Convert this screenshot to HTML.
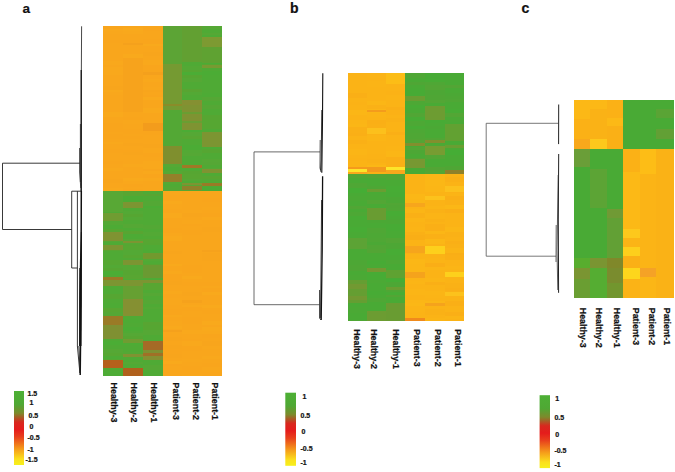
<!DOCTYPE html>
<html><head><meta charset="utf-8"><title>Heatmaps</title>
<style>
html,body{margin:0;padding:0;background:#fff;}
body{width:675px;height:472px;overflow:hidden;font-family:"Liberation Sans",sans-serif;}
svg{display:block;}
svg text{font-family:"Liberation Sans",sans-serif;font-weight:bold;fill:#111;stroke:#111;stroke-width:0.22px;}
</style></head><body>
<svg width="675" height="472" viewBox="0 0 675 472">
<defs>
<linearGradient id="lg" x1="0" y1="0" x2="0" y2="1">
<stop offset="0" stop-color="#4db035"/>
<stop offset="0.18" stop-color="#4fa834"/>
<stop offset="0.30" stop-color="#7d8a2c"/>
<stop offset="0.42" stop-color="#d8281e"/>
<stop offset="0.52" stop-color="#e51c1c"/>
<stop offset="0.62" stop-color="#e8401c"/>
<stop offset="0.78" stop-color="#f59a1a"/>
<stop offset="0.92" stop-color="#fbe01c"/>
<stop offset="1" stop-color="#f6f01c"/>
</linearGradient>
<filter id="bl" x="-2%" y="-2%" width="104%" height="104%"><feGaussianBlur stdDeviation="0.45"/></filter>
</defs>
<rect width="675" height="472" fill="#fff"/>
<g filter="url(#bl)" shape-rendering="crispEdges">
<rect x="103.20" y="26.20" width="59.80" height="164.90" fill="#f9a61c"/>
<rect x="103.20" y="190.80" width="59.80" height="184.70" fill="#50aa34"/>
<rect x="162.60" y="26.20" width="59.00" height="164.90" fill="#50aa34"/>
<rect x="162.60" y="190.80" width="59.00" height="184.70" fill="#f9a61c"/>
<rect x="103.20" y="26.20" width="19.80" height="2.97" fill="#f9a51c"/>
<rect x="103.20" y="29.17" width="19.80" height="2.22" fill="#f9a81c"/>
<rect x="103.20" y="31.39" width="19.80" height="2.17" fill="#f9a71c"/>
<rect x="103.20" y="33.56" width="19.80" height="3.30" fill="#f9a61c"/>
<rect x="103.20" y="40.14" width="19.80" height="2.37" fill="#f9a51c"/>
<rect x="103.20" y="52.68" width="19.80" height="2.87" fill="#f9a61c"/>
<rect x="103.20" y="61.02" width="19.80" height="3.92" fill="#f9a81c"/>
<rect x="103.20" y="64.93" width="19.80" height="2.19" fill="#f9a61c"/>
<rect x="103.20" y="67.12" width="19.80" height="4.04" fill="#f9a81c"/>
<rect x="103.20" y="71.16" width="19.80" height="3.76" fill="#f9a81c"/>
<rect x="103.20" y="85.61" width="19.80" height="4.19" fill="#f8a51c"/>
<rect x="103.20" y="89.80" width="19.80" height="2.35" fill="#f9a91c"/>
<rect x="103.20" y="92.15" width="19.80" height="2.46" fill="#f9a71c"/>
<rect x="103.20" y="112.43" width="19.80" height="4.83" fill="#f9a91c"/>
<rect x="103.20" y="123.38" width="19.80" height="4.47" fill="#f9a51c"/>
<rect x="103.20" y="127.85" width="19.80" height="4.01" fill="#f9a51c"/>
<rect x="103.20" y="131.86" width="19.80" height="2.50" fill="#f9a61c"/>
<rect x="103.20" y="134.36" width="19.80" height="4.30" fill="#f9a51c"/>
<rect x="103.20" y="141.84" width="19.80" height="2.24" fill="#f9a81c"/>
<rect x="103.20" y="148.73" width="19.80" height="4.59" fill="#f9a51c"/>
<rect x="103.20" y="156.40" width="19.80" height="4.87" fill="#f9a61c"/>
<rect x="103.20" y="161.27" width="19.80" height="2.70" fill="#f9a51c"/>
<rect x="103.20" y="163.97" width="19.80" height="3.77" fill="#f9a61c"/>
<rect x="103.20" y="167.73" width="19.80" height="3.26" fill="#f9a81c"/>
<rect x="103.20" y="179.40" width="19.80" height="4.03" fill="#f8a51c"/>
<rect x="103.20" y="187.77" width="19.80" height="3.03" fill="#f9a81c"/>
<rect x="103.20" y="193.11" width="19.80" height="2.19" fill="#54a834"/>
<rect x="103.20" y="195.30" width="19.80" height="2.49" fill="#52a934"/>
<rect x="103.20" y="197.78" width="19.80" height="2.00" fill="#53a934"/>
<rect x="103.20" y="199.78" width="19.80" height="3.09" fill="#58a633"/>
<rect x="103.20" y="202.88" width="19.80" height="3.84" fill="#54a834"/>
<rect x="103.20" y="206.72" width="19.80" height="3.04" fill="#53a834"/>
<rect x="103.20" y="214.31" width="19.80" height="3.40" fill="#4eab35"/>
<rect x="103.20" y="217.70" width="19.80" height="2.31" fill="#54a834"/>
<rect x="103.20" y="220.01" width="19.80" height="4.49" fill="#52a934"/>
<rect x="103.20" y="224.50" width="19.80" height="4.85" fill="#4eab35"/>
<rect x="103.20" y="229.35" width="19.80" height="3.63" fill="#56a733"/>
<rect x="103.20" y="237.92" width="19.80" height="4.09" fill="#55a834"/>
<rect x="103.20" y="248.10" width="19.80" height="2.99" fill="#58a633"/>
<rect x="103.20" y="260.47" width="19.80" height="4.22" fill="#56a733"/>
<rect x="103.20" y="264.69" width="19.80" height="3.07" fill="#52a934"/>
<rect x="103.20" y="267.75" width="19.80" height="2.84" fill="#57a633"/>
<rect x="103.20" y="270.59" width="19.80" height="4.87" fill="#4bad36"/>
<rect x="103.20" y="280.42" width="19.80" height="3.09" fill="#54a834"/>
<rect x="103.20" y="283.52" width="19.80" height="2.59" fill="#57a733"/>
<rect x="103.20" y="294.25" width="19.80" height="4.40" fill="#57a633"/>
<rect x="103.20" y="303.38" width="19.80" height="4.25" fill="#4eab35"/>
<rect x="103.20" y="307.63" width="19.80" height="4.37" fill="#58a633"/>
<rect x="103.20" y="311.99" width="19.80" height="4.91" fill="#55a734"/>
<rect x="103.20" y="321.75" width="19.80" height="2.51" fill="#53a834"/>
<rect x="103.20" y="336.35" width="19.80" height="3.05" fill="#4eab35"/>
<rect x="103.20" y="341.45" width="19.80" height="3.95" fill="#4bad36"/>
<rect x="103.20" y="348.70" width="19.80" height="4.48" fill="#54a834"/>
<rect x="103.20" y="353.18" width="19.80" height="2.88" fill="#56a733"/>
<rect x="103.20" y="356.05" width="19.80" height="2.78" fill="#4eab35"/>
<rect x="103.20" y="358.83" width="19.80" height="4.73" fill="#55a733"/>
<rect x="103.20" y="370.57" width="19.80" height="3.50" fill="#4dac35"/>
<rect x="103.20" y="374.08" width="19.80" height="1.42" fill="#4eab35"/>
<rect x="123.00" y="28.21" width="19.90" height="2.52" fill="#f9a91c"/>
<rect x="123.00" y="30.73" width="19.90" height="3.67" fill="#f9a81c"/>
<rect x="123.00" y="40.38" width="19.90" height="2.75" fill="#f9a51c"/>
<rect x="123.00" y="54.26" width="19.90" height="3.52" fill="#f9a91c"/>
<rect x="123.00" y="57.78" width="19.90" height="3.36" fill="#f9a81c"/>
<rect x="123.00" y="78.20" width="19.90" height="2.41" fill="#f9a51c"/>
<rect x="123.00" y="80.61" width="19.90" height="2.22" fill="#f9a61c"/>
<rect x="123.00" y="86.84" width="19.90" height="4.69" fill="#f9a51c"/>
<rect x="123.00" y="91.53" width="19.90" height="3.98" fill="#f8a51c"/>
<rect x="123.00" y="95.51" width="19.90" height="4.90" fill="#f8a51c"/>
<rect x="123.00" y="100.41" width="19.90" height="3.19" fill="#f9a91c"/>
<rect x="123.00" y="103.60" width="19.90" height="4.50" fill="#f9a51c"/>
<rect x="123.00" y="108.10" width="19.90" height="3.55" fill="#f9a71c"/>
<rect x="123.00" y="116.66" width="19.90" height="3.32" fill="#f9a51c"/>
<rect x="123.00" y="119.98" width="19.90" height="3.87" fill="#f9a71c"/>
<rect x="123.00" y="128.81" width="19.90" height="4.92" fill="#f9a51c"/>
<rect x="123.00" y="135.84" width="19.90" height="2.81" fill="#f9a51c"/>
<rect x="123.00" y="143.39" width="19.90" height="2.78" fill="#f8a51c"/>
<rect x="123.00" y="149.88" width="19.90" height="2.27" fill="#f9a51c"/>
<rect x="123.00" y="152.15" width="19.90" height="3.28" fill="#f8a51c"/>
<rect x="123.00" y="163.78" width="19.90" height="3.36" fill="#f9a81c"/>
<rect x="123.00" y="167.14" width="19.90" height="4.78" fill="#f9a61c"/>
<rect x="123.00" y="171.92" width="19.90" height="3.58" fill="#f9a61c"/>
<rect x="123.00" y="175.50" width="19.90" height="2.48" fill="#f9a61c"/>
<rect x="123.00" y="177.98" width="19.90" height="2.94" fill="#f9a91c"/>
<rect x="123.00" y="180.92" width="19.90" height="2.87" fill="#f9a71c"/>
<rect x="123.00" y="183.79" width="19.90" height="3.04" fill="#f9a51c"/>
<rect x="123.00" y="188.88" width="19.90" height="1.92" fill="#f9a51c"/>
<rect x="123.00" y="190.80" width="19.90" height="4.80" fill="#58a633"/>
<rect x="123.00" y="195.60" width="19.90" height="3.30" fill="#4bac36"/>
<rect x="123.00" y="198.90" width="19.90" height="3.18" fill="#4cac35"/>
<rect x="123.00" y="202.08" width="19.90" height="4.95" fill="#58a633"/>
<rect x="123.00" y="211.15" width="19.90" height="3.21" fill="#52a934"/>
<rect x="123.00" y="214.36" width="19.90" height="2.39" fill="#57a633"/>
<rect x="123.00" y="216.75" width="19.90" height="2.77" fill="#53a934"/>
<rect x="123.00" y="224.04" width="19.90" height="4.01" fill="#54a834"/>
<rect x="123.00" y="228.05" width="19.90" height="2.88" fill="#4eab35"/>
<rect x="123.00" y="230.93" width="19.90" height="3.34" fill="#59a533"/>
<rect x="123.00" y="234.27" width="19.90" height="4.92" fill="#4dab35"/>
<rect x="123.00" y="239.19" width="19.90" height="4.90" fill="#55a834"/>
<rect x="123.00" y="244.08" width="19.90" height="2.00" fill="#55a733"/>
<rect x="123.00" y="246.09" width="19.90" height="3.51" fill="#56a733"/>
<rect x="123.00" y="249.60" width="19.90" height="2.01" fill="#53a934"/>
<rect x="123.00" y="251.61" width="19.90" height="3.20" fill="#52a934"/>
<rect x="123.00" y="254.81" width="19.90" height="2.91" fill="#56a733"/>
<rect x="123.00" y="265.28" width="19.90" height="4.64" fill="#54a834"/>
<rect x="123.00" y="269.92" width="19.90" height="4.95" fill="#57a633"/>
<rect x="123.00" y="274.87" width="19.90" height="3.93" fill="#58a633"/>
<rect x="123.00" y="287.68" width="19.90" height="2.42" fill="#4dac35"/>
<rect x="123.00" y="303.76" width="19.90" height="4.08" fill="#52a934"/>
<rect x="123.00" y="307.84" width="19.90" height="2.40" fill="#53a934"/>
<rect x="123.00" y="318.63" width="19.90" height="4.04" fill="#4eab35"/>
<rect x="123.00" y="327.07" width="19.90" height="3.51" fill="#4cac35"/>
<rect x="123.00" y="332.77" width="19.90" height="2.76" fill="#54a834"/>
<rect x="123.00" y="335.53" width="19.90" height="4.19" fill="#57a633"/>
<rect x="123.00" y="339.72" width="19.90" height="4.93" fill="#4dac35"/>
<rect x="123.00" y="352.38" width="19.90" height="3.93" fill="#53a834"/>
<rect x="123.00" y="361.99" width="19.90" height="2.04" fill="#54a834"/>
<rect x="123.00" y="368.04" width="19.90" height="4.03" fill="#56a733"/>
<rect x="123.00" y="372.07" width="19.90" height="3.39" fill="#4eab35"/>
<rect x="123.00" y="375.46" width="19.90" height="0.04" fill="#59a533"/>
<rect x="142.90" y="26.20" width="19.70" height="4.81" fill="#f9a51c"/>
<rect x="142.90" y="35.47" width="19.70" height="3.35" fill="#f9a61c"/>
<rect x="142.90" y="38.82" width="19.70" height="4.84" fill="#f9a51c"/>
<rect x="142.90" y="43.65" width="19.70" height="2.43" fill="#f9a91c"/>
<rect x="142.90" y="52.00" width="19.70" height="4.11" fill="#f8a51c"/>
<rect x="142.90" y="56.11" width="19.70" height="3.46" fill="#f9a61c"/>
<rect x="142.90" y="59.57" width="19.70" height="3.48" fill="#f9a81c"/>
<rect x="142.90" y="63.05" width="19.70" height="2.42" fill="#f9a81c"/>
<rect x="142.90" y="65.47" width="19.70" height="4.52" fill="#f9a51c"/>
<rect x="142.90" y="69.99" width="19.70" height="4.52" fill="#f8a51c"/>
<rect x="142.90" y="78.65" width="19.70" height="2.87" fill="#f9a81c"/>
<rect x="142.90" y="86.51" width="19.70" height="3.08" fill="#f9a71c"/>
<rect x="142.90" y="89.59" width="19.70" height="2.14" fill="#f8a51c"/>
<rect x="142.90" y="94.60" width="19.70" height="2.75" fill="#f9a51c"/>
<rect x="142.90" y="97.34" width="19.70" height="2.57" fill="#f9a91c"/>
<rect x="142.90" y="108.46" width="19.70" height="4.82" fill="#f9a91c"/>
<rect x="142.90" y="118.78" width="19.70" height="3.93" fill="#f9a61c"/>
<rect x="142.90" y="122.71" width="19.70" height="4.78" fill="#f9a51c"/>
<rect x="142.90" y="127.50" width="19.70" height="3.03" fill="#f9a51c"/>
<rect x="142.90" y="130.53" width="19.70" height="4.93" fill="#f9a51c"/>
<rect x="142.90" y="138.36" width="19.70" height="3.18" fill="#f9a61c"/>
<rect x="142.90" y="144.16" width="19.70" height="3.49" fill="#f8a51c"/>
<rect x="142.90" y="147.66" width="19.70" height="4.99" fill="#f9a71c"/>
<rect x="142.90" y="152.64" width="19.70" height="2.58" fill="#f9a51c"/>
<rect x="142.90" y="155.22" width="19.70" height="2.27" fill="#f9a51c"/>
<rect x="142.90" y="161.20" width="19.70" height="4.25" fill="#f9a81c"/>
<rect x="142.90" y="165.45" width="19.70" height="3.57" fill="#f9a81c"/>
<rect x="142.90" y="169.03" width="19.70" height="2.19" fill="#f8a51c"/>
<rect x="142.90" y="171.21" width="19.70" height="2.38" fill="#f9a81c"/>
<rect x="142.90" y="173.59" width="19.70" height="4.59" fill="#f9a51c"/>
<rect x="142.90" y="178.18" width="19.70" height="2.75" fill="#f9a81c"/>
<rect x="142.90" y="185.79" width="19.70" height="4.62" fill="#f9a61c"/>
<rect x="142.90" y="194.22" width="19.70" height="2.00" fill="#59a533"/>
<rect x="142.90" y="200.70" width="19.70" height="4.92" fill="#53a834"/>
<rect x="142.90" y="205.61" width="19.70" height="2.46" fill="#4cac35"/>
<rect x="142.90" y="225.03" width="19.70" height="3.94" fill="#53a834"/>
<rect x="142.90" y="231.72" width="19.70" height="4.10" fill="#53a934"/>
<rect x="142.90" y="239.39" width="19.70" height="3.16" fill="#56a733"/>
<rect x="142.90" y="242.56" width="19.70" height="2.03" fill="#55a733"/>
<rect x="142.90" y="249.47" width="19.70" height="4.65" fill="#4eab35"/>
<rect x="142.90" y="256.86" width="19.70" height="4.11" fill="#52a934"/>
<rect x="142.90" y="264.47" width="19.70" height="3.26" fill="#57a633"/>
<rect x="142.90" y="267.73" width="19.70" height="4.78" fill="#52a934"/>
<rect x="142.90" y="272.50" width="19.70" height="3.01" fill="#4cac35"/>
<rect x="142.90" y="278.11" width="19.70" height="4.22" fill="#4eab35"/>
<rect x="142.90" y="282.33" width="19.70" height="4.91" fill="#58a633"/>
<rect x="142.90" y="287.24" width="19.70" height="2.69" fill="#58a633"/>
<rect x="142.90" y="292.81" width="19.70" height="3.49" fill="#54a834"/>
<rect x="142.90" y="299.55" width="19.70" height="4.85" fill="#55a734"/>
<rect x="142.90" y="307.04" width="19.70" height="2.43" fill="#53a934"/>
<rect x="142.90" y="322.29" width="19.70" height="2.99" fill="#59a533"/>
<rect x="142.90" y="325.28" width="19.70" height="4.24" fill="#57a633"/>
<rect x="142.90" y="329.51" width="19.70" height="3.14" fill="#54a834"/>
<rect x="142.90" y="332.65" width="19.70" height="2.51" fill="#54a834"/>
<rect x="142.90" y="340.58" width="19.70" height="2.62" fill="#58a633"/>
<rect x="142.90" y="343.21" width="19.70" height="4.47" fill="#4eab35"/>
<rect x="142.90" y="347.67" width="19.70" height="3.42" fill="#59a533"/>
<rect x="142.90" y="351.09" width="19.70" height="2.58" fill="#59a633"/>
<rect x="142.90" y="353.67" width="19.70" height="2.09" fill="#4cac36"/>
<rect x="142.90" y="355.76" width="19.70" height="4.30" fill="#52a934"/>
<rect x="142.90" y="365.02" width="19.70" height="4.70" fill="#54a834"/>
<rect x="162.60" y="26.20" width="19.60" height="2.95" fill="#52a934"/>
<rect x="162.60" y="37.32" width="19.60" height="2.07" fill="#55a733"/>
<rect x="162.60" y="44.26" width="19.60" height="3.16" fill="#55a734"/>
<rect x="162.60" y="61.98" width="19.60" height="2.98" fill="#55a834"/>
<rect x="162.60" y="64.97" width="19.60" height="4.35" fill="#54a834"/>
<rect x="162.60" y="69.31" width="19.60" height="4.26" fill="#53a934"/>
<rect x="162.60" y="83.30" width="19.60" height="2.79" fill="#53a934"/>
<rect x="162.60" y="89.59" width="19.60" height="3.34" fill="#55a734"/>
<rect x="162.60" y="101.04" width="19.60" height="3.99" fill="#58a633"/>
<rect x="162.60" y="111.03" width="19.60" height="2.60" fill="#54a834"/>
<rect x="162.60" y="116.09" width="19.60" height="3.73" fill="#55a734"/>
<rect x="162.60" y="119.82" width="19.60" height="4.98" fill="#4eab35"/>
<rect x="162.60" y="129.23" width="19.60" height="4.97" fill="#55a733"/>
<rect x="162.60" y="138.66" width="19.60" height="4.74" fill="#54a834"/>
<rect x="162.60" y="143.40" width="19.60" height="2.36" fill="#59a533"/>
<rect x="162.60" y="152.62" width="19.60" height="3.35" fill="#58a633"/>
<rect x="162.60" y="155.97" width="19.60" height="4.84" fill="#56a733"/>
<rect x="162.60" y="160.81" width="19.60" height="3.86" fill="#55a834"/>
<rect x="162.60" y="164.67" width="19.60" height="2.42" fill="#54a834"/>
<rect x="162.60" y="170.89" width="19.60" height="2.61" fill="#54a834"/>
<rect x="162.60" y="173.50" width="19.60" height="4.03" fill="#54a834"/>
<rect x="162.60" y="180.15" width="19.60" height="3.64" fill="#53a934"/>
<rect x="162.60" y="186.98" width="19.60" height="3.82" fill="#53a834"/>
<rect x="162.60" y="190.80" width="19.60" height="4.09" fill="#f9a71c"/>
<rect x="162.60" y="200.75" width="19.60" height="3.07" fill="#f9a91c"/>
<rect x="162.60" y="203.82" width="19.60" height="4.99" fill="#f9a71c"/>
<rect x="162.60" y="208.81" width="19.60" height="4.18" fill="#f9a61c"/>
<rect x="162.60" y="212.99" width="19.60" height="4.70" fill="#f9a91c"/>
<rect x="162.60" y="220.92" width="19.60" height="3.38" fill="#f9a61c"/>
<rect x="162.60" y="227.95" width="19.60" height="4.73" fill="#f9a51c"/>
<rect x="162.60" y="232.68" width="19.60" height="3.11" fill="#f9a71c"/>
<rect x="162.60" y="235.79" width="19.60" height="2.85" fill="#f9a91c"/>
<rect x="162.60" y="238.64" width="19.60" height="2.33" fill="#f9a91c"/>
<rect x="162.60" y="240.97" width="19.60" height="4.90" fill="#f9a61c"/>
<rect x="162.60" y="250.70" width="19.60" height="3.45" fill="#f8a51c"/>
<rect x="162.60" y="263.65" width="19.60" height="2.67" fill="#f9a91c"/>
<rect x="162.60" y="266.32" width="19.60" height="4.49" fill="#f9a61c"/>
<rect x="162.60" y="270.81" width="19.60" height="3.20" fill="#f9a81c"/>
<rect x="162.60" y="274.01" width="19.60" height="2.37" fill="#f9a51c"/>
<rect x="162.60" y="276.38" width="19.60" height="4.69" fill="#f9a51c"/>
<rect x="162.60" y="281.07" width="19.60" height="4.27" fill="#f8a51c"/>
<rect x="162.60" y="291.34" width="19.60" height="2.92" fill="#f9a81c"/>
<rect x="162.60" y="297.54" width="19.60" height="3.34" fill="#f9a71c"/>
<rect x="162.60" y="300.88" width="19.60" height="3.86" fill="#f9a71c"/>
<rect x="162.60" y="309.03" width="19.60" height="3.37" fill="#f9a51c"/>
<rect x="162.60" y="312.40" width="19.60" height="2.32" fill="#f9a51c"/>
<rect x="162.60" y="314.72" width="19.60" height="2.28" fill="#f9a81c"/>
<rect x="162.60" y="321.37" width="19.60" height="4.33" fill="#f9a71c"/>
<rect x="162.60" y="325.70" width="19.60" height="3.51" fill="#f9a91c"/>
<rect x="162.60" y="336.61" width="19.60" height="4.44" fill="#f8a51c"/>
<rect x="162.60" y="344.53" width="19.60" height="4.75" fill="#f8a51c"/>
<rect x="162.60" y="349.28" width="19.60" height="4.79" fill="#f9a51c"/>
<rect x="162.60" y="354.07" width="19.60" height="4.27" fill="#f8a51c"/>
<rect x="162.60" y="361.16" width="19.60" height="2.43" fill="#f9a91c"/>
<rect x="162.60" y="363.59" width="19.60" height="2.62" fill="#f9a51c"/>
<rect x="162.60" y="366.22" width="19.60" height="2.96" fill="#f9a61c"/>
<rect x="182.20" y="28.71" width="19.80" height="2.35" fill="#4cac35"/>
<rect x="182.20" y="37.80" width="19.80" height="4.65" fill="#59a533"/>
<rect x="182.20" y="42.44" width="19.80" height="3.89" fill="#58a633"/>
<rect x="182.20" y="49.13" width="19.80" height="3.73" fill="#58a633"/>
<rect x="182.20" y="52.86" width="19.80" height="3.33" fill="#57a633"/>
<rect x="182.20" y="66.04" width="19.80" height="3.99" fill="#52a934"/>
<rect x="182.20" y="70.04" width="19.80" height="2.10" fill="#56a733"/>
<rect x="182.20" y="72.14" width="19.80" height="3.30" fill="#4bad36"/>
<rect x="182.20" y="75.43" width="19.80" height="2.40" fill="#57a633"/>
<rect x="182.20" y="77.83" width="19.80" height="2.07" fill="#55a834"/>
<rect x="182.20" y="79.90" width="19.80" height="2.32" fill="#54a834"/>
<rect x="182.20" y="88.58" width="19.80" height="3.42" fill="#59a533"/>
<rect x="182.20" y="92.00" width="19.80" height="2.73" fill="#53a934"/>
<rect x="182.20" y="98.65" width="19.80" height="4.35" fill="#4dab35"/>
<rect x="182.20" y="105.03" width="19.80" height="3.69" fill="#57a633"/>
<rect x="182.20" y="112.05" width="19.80" height="4.20" fill="#59a633"/>
<rect x="182.20" y="116.25" width="19.80" height="2.13" fill="#4dac35"/>
<rect x="182.20" y="118.38" width="19.80" height="2.71" fill="#58a633"/>
<rect x="182.20" y="123.13" width="19.80" height="4.82" fill="#54a834"/>
<rect x="182.20" y="127.95" width="19.80" height="3.82" fill="#4cac35"/>
<rect x="182.20" y="131.78" width="19.80" height="4.44" fill="#54a834"/>
<rect x="182.20" y="136.22" width="19.80" height="2.90" fill="#58a633"/>
<rect x="182.20" y="145.49" width="19.80" height="4.24" fill="#4cac35"/>
<rect x="182.20" y="149.72" width="19.80" height="3.36" fill="#53a934"/>
<rect x="182.20" y="153.08" width="19.80" height="2.70" fill="#54a834"/>
<rect x="182.20" y="170.67" width="19.80" height="3.57" fill="#57a633"/>
<rect x="182.20" y="174.24" width="19.80" height="4.90" fill="#58a633"/>
<rect x="182.20" y="179.13" width="19.80" height="2.05" fill="#54a834"/>
<rect x="182.20" y="185.41" width="19.80" height="4.24" fill="#58a633"/>
<rect x="182.20" y="189.65" width="19.80" height="1.15" fill="#59a633"/>
<rect x="182.20" y="209.50" width="19.80" height="3.71" fill="#f9a71c"/>
<rect x="182.20" y="213.21" width="19.80" height="3.87" fill="#f8a51c"/>
<rect x="182.20" y="217.08" width="19.80" height="2.43" fill="#f9a61c"/>
<rect x="182.20" y="219.51" width="19.80" height="4.79" fill="#f9a71c"/>
<rect x="182.20" y="224.30" width="19.80" height="2.09" fill="#f9a51c"/>
<rect x="182.20" y="230.29" width="19.80" height="4.21" fill="#f9a51c"/>
<rect x="182.20" y="248.99" width="19.80" height="2.32" fill="#f9a61c"/>
<rect x="182.20" y="262.32" width="19.80" height="2.86" fill="#f9a61c"/>
<rect x="182.20" y="265.19" width="19.80" height="4.27" fill="#f9a51c"/>
<rect x="182.20" y="269.46" width="19.80" height="3.27" fill="#f9a51c"/>
<rect x="182.20" y="275.58" width="19.80" height="3.10" fill="#f9a91c"/>
<rect x="182.20" y="282.19" width="19.80" height="3.85" fill="#f9a51c"/>
<rect x="182.20" y="292.40" width="19.80" height="3.61" fill="#f8a51c"/>
<rect x="182.20" y="298.28" width="19.80" height="2.51" fill="#f9a61c"/>
<rect x="182.20" y="305.08" width="19.80" height="2.01" fill="#f9a81c"/>
<rect x="182.20" y="307.09" width="19.80" height="4.39" fill="#f9a51c"/>
<rect x="182.20" y="317.31" width="19.80" height="2.85" fill="#f9a51c"/>
<rect x="182.20" y="320.16" width="19.80" height="3.49" fill="#f9a51c"/>
<rect x="182.20" y="329.99" width="19.80" height="3.88" fill="#f9a81c"/>
<rect x="182.20" y="339.31" width="19.80" height="2.08" fill="#f9a51c"/>
<rect x="182.20" y="341.39" width="19.80" height="4.70" fill="#f9a81c"/>
<rect x="182.20" y="346.09" width="19.80" height="4.65" fill="#f9a51c"/>
<rect x="182.20" y="358.60" width="19.80" height="3.05" fill="#f9a71c"/>
<rect x="182.20" y="366.17" width="19.80" height="4.23" fill="#f9a51c"/>
<rect x="182.20" y="374.72" width="19.80" height="0.78" fill="#f9a91c"/>
<rect x="202.00" y="26.20" width="19.60" height="2.71" fill="#54a834"/>
<rect x="202.00" y="33.02" width="19.60" height="2.46" fill="#54a834"/>
<rect x="202.00" y="35.49" width="19.60" height="2.98" fill="#4eab35"/>
<rect x="202.00" y="38.47" width="19.60" height="2.98" fill="#59a533"/>
<rect x="202.00" y="41.45" width="19.60" height="4.19" fill="#59a533"/>
<rect x="202.00" y="45.64" width="19.60" height="2.30" fill="#59a533"/>
<rect x="202.00" y="52.33" width="19.60" height="3.30" fill="#57a733"/>
<rect x="202.00" y="55.63" width="19.60" height="2.32" fill="#55a734"/>
<rect x="202.00" y="57.95" width="19.60" height="2.10" fill="#58a633"/>
<rect x="202.00" y="60.05" width="19.60" height="4.08" fill="#4cac35"/>
<rect x="202.00" y="64.13" width="19.60" height="3.39" fill="#56a733"/>
<rect x="202.00" y="70.74" width="19.60" height="4.72" fill="#4cac35"/>
<rect x="202.00" y="75.46" width="19.60" height="4.25" fill="#4eab35"/>
<rect x="202.00" y="92.76" width="19.60" height="3.92" fill="#4dab35"/>
<rect x="202.00" y="96.68" width="19.60" height="3.88" fill="#55a734"/>
<rect x="202.00" y="104.91" width="19.60" height="3.89" fill="#55a734"/>
<rect x="202.00" y="115.39" width="19.60" height="4.79" fill="#57a633"/>
<rect x="202.00" y="120.19" width="19.60" height="4.33" fill="#56a733"/>
<rect x="202.00" y="124.52" width="19.60" height="4.92" fill="#56a733"/>
<rect x="202.00" y="131.93" width="19.60" height="4.82" fill="#4eab35"/>
<rect x="202.00" y="136.75" width="19.60" height="3.72" fill="#4cac35"/>
<rect x="202.00" y="144.01" width="19.60" height="4.49" fill="#4dac35"/>
<rect x="202.00" y="148.50" width="19.60" height="4.84" fill="#57a633"/>
<rect x="202.00" y="158.88" width="19.60" height="3.07" fill="#54a834"/>
<rect x="202.00" y="161.95" width="19.60" height="3.20" fill="#55a734"/>
<rect x="202.00" y="168.41" width="19.60" height="3.06" fill="#54a834"/>
<rect x="202.00" y="175.69" width="19.60" height="3.58" fill="#58a633"/>
<rect x="202.00" y="179.27" width="19.60" height="3.18" fill="#53a834"/>
<rect x="202.00" y="186.78" width="19.60" height="3.90" fill="#4cac35"/>
<rect x="202.00" y="198.32" width="19.60" height="3.40" fill="#f9a51c"/>
<rect x="202.00" y="207.16" width="19.60" height="2.80" fill="#f9a71c"/>
<rect x="202.00" y="209.96" width="19.60" height="3.28" fill="#f9a61c"/>
<rect x="202.00" y="213.24" width="19.60" height="4.17" fill="#f9a51c"/>
<rect x="202.00" y="217.41" width="19.60" height="2.91" fill="#f9a81c"/>
<rect x="202.00" y="227.31" width="19.60" height="4.56" fill="#f8a51c"/>
<rect x="202.00" y="239.01" width="19.60" height="3.90" fill="#f9a61c"/>
<rect x="202.00" y="247.77" width="19.60" height="2.75" fill="#f9a61c"/>
<rect x="202.00" y="253.22" width="19.60" height="3.04" fill="#f8a51c"/>
<rect x="202.00" y="256.26" width="19.60" height="4.38" fill="#f8a51c"/>
<rect x="202.00" y="282.33" width="19.60" height="3.67" fill="#f9a51c"/>
<rect x="202.00" y="285.99" width="19.60" height="2.42" fill="#f9a71c"/>
<rect x="202.00" y="288.41" width="19.60" height="3.40" fill="#f9a51c"/>
<rect x="202.00" y="291.81" width="19.60" height="3.49" fill="#f9a91c"/>
<rect x="202.00" y="304.73" width="19.60" height="3.12" fill="#f9a91c"/>
<rect x="202.00" y="310.08" width="19.60" height="3.91" fill="#f9a51c"/>
<rect x="202.00" y="321.02" width="19.60" height="3.53" fill="#f9a91c"/>
<rect x="202.00" y="326.66" width="19.60" height="3.88" fill="#f9a91c"/>
<rect x="202.00" y="330.53" width="19.60" height="3.10" fill="#f9a81c"/>
<rect x="202.00" y="333.63" width="19.60" height="4.31" fill="#f9a51c"/>
<rect x="202.00" y="341.21" width="19.60" height="4.48" fill="#f8a51c"/>
<rect x="202.00" y="345.69" width="19.60" height="3.21" fill="#f9a71c"/>
<rect x="202.00" y="356.39" width="19.60" height="2.99" fill="#f9a81c"/>
<rect x="202.00" y="363.14" width="19.60" height="4.35" fill="#f9a51c"/>
<rect x="202.00" y="367.49" width="19.60" height="4.66" fill="#f9a71c"/>
<rect x="202.00" y="372.15" width="19.60" height="2.90" fill="#f9a61c"/>
<rect x="162.60" y="26.20" width="19.60" height="37.80" fill="#5ba434"/>
<rect x="162.60" y="64.00" width="19.60" height="46.00" fill="#759a31"/>
<rect x="162.60" y="110.00" width="19.60" height="36.00" fill="#52a834"/>
<rect x="162.60" y="146.00" width="19.60" height="18.00" fill="#7f8f2d"/>
<rect x="162.60" y="173.70" width="19.60" height="8.60" fill="#94802a"/>
<rect x="162.60" y="104.00" width="19.60" height="2.00" fill="#8a8c2c"/>
<rect x="182.20" y="26.20" width="19.80" height="35.80" fill="#62a033"/>
<rect x="182.20" y="105.00" width="19.80" height="25.00" fill="#7f9330"/>
<rect x="182.20" y="112.00" width="19.80" height="2.00" fill="#6a9e32"/>
<rect x="182.20" y="121.00" width="19.80" height="2.00" fill="#6a9e32"/>
<rect x="182.20" y="165.00" width="19.80" height="3.00" fill="#a07828"/>
<rect x="182.20" y="183.00" width="19.80" height="2.00" fill="#7c9530"/>
<rect x="182.20" y="186.00" width="19.80" height="4.00" fill="#8f822a"/>
<rect x="182.20" y="100.00" width="19.80" height="5.00" fill="#859030"/>
<rect x="202.00" y="37.00" width="19.60" height="10.00" fill="#7d9a30"/>
<rect x="202.00" y="47.00" width="19.60" height="16.00" fill="#5fa233"/>
<rect x="202.00" y="65.00" width="19.60" height="3.00" fill="#789a31"/>
<rect x="202.00" y="131.70" width="19.60" height="15.30" fill="#7c9530"/>
<rect x="202.00" y="169.00" width="19.60" height="4.00" fill="#7f9330"/>
<rect x="202.00" y="183.00" width="19.60" height="3.00" fill="#9a7a28"/>
<rect x="123.00" y="58.00" width="19.90" height="54.00" fill="#f7a31c"/>
<rect x="142.90" y="122.70" width="19.70" height="8.00" fill="#f39c1e"/>
<rect x="142.90" y="72.00" width="19.70" height="3.00" fill="#f4a01d"/>
<rect x="123.00" y="43.00" width="19.90" height="2.00" fill="#f5a11c"/>
<rect x="103.20" y="191.00" width="19.80" height="21.00" fill="#58a834"/>
<rect x="103.20" y="212.60" width="19.80" height="8.40" fill="#6f9c32"/>
<rect x="103.20" y="231.70" width="19.80" height="9.50" fill="#7f9330"/>
<rect x="103.20" y="245.00" width="19.80" height="5.00" fill="#7c9530"/>
<rect x="103.20" y="277.00" width="19.80" height="3.00" fill="#9a7a28"/>
<rect x="103.20" y="280.00" width="19.80" height="6.00" fill="#7c9530"/>
<rect x="103.20" y="316.00" width="19.80" height="8.50" fill="#9a7a28"/>
<rect x="103.20" y="324.50" width="19.80" height="14.90" fill="#7f9030"/>
<rect x="103.20" y="359.50" width="19.80" height="8.50" fill="#b5601f"/>
<rect x="123.00" y="202.00" width="19.90" height="6.00" fill="#7c9530"/>
<rect x="123.00" y="241.00" width="19.90" height="2.00" fill="#7c9530"/>
<rect x="123.00" y="260.00" width="19.90" height="4.50" fill="#7c9530"/>
<rect x="123.00" y="280.00" width="19.90" height="6.00" fill="#7c9530"/>
<rect x="123.00" y="286.00" width="19.90" height="13.00" fill="#66a033"/>
<rect x="123.00" y="299.00" width="19.90" height="17.00" fill="#859030"/>
<rect x="123.00" y="339.00" width="19.90" height="4.00" fill="#6f9c32"/>
<rect x="123.00" y="354.00" width="19.90" height="3.00" fill="#7f9330"/>
<rect x="123.00" y="368.00" width="19.90" height="7.50" fill="#b0601f"/>
<rect x="142.90" y="253.00" width="19.70" height="6.00" fill="#72992f"/>
<rect x="142.90" y="264.50" width="19.70" height="13.50" fill="#6b9a30"/>
<rect x="142.90" y="280.00" width="19.70" height="3.00" fill="#7c9530"/>
<rect x="142.90" y="340.50" width="19.70" height="9.50" fill="#a56a25"/>
<rect x="142.90" y="350.00" width="19.70" height="3.00" fill="#7f9030"/>
<rect x="142.90" y="353.00" width="19.70" height="3.00" fill="#a07028"/>
<rect x="142.90" y="356.00" width="19.70" height="3.50" fill="#859030"/>
<rect x="182.20" y="300.00" width="19.80" height="3.00" fill="#f6a21c"/>
<rect x="162.60" y="330.00" width="19.60" height="2.00" fill="#f5a11c"/>
<rect x="202.00" y="250.00" width="19.60" height="2.00" fill="#f6a21c"/>
</g>
<g filter="url(#bl)" shape-rendering="crispEdges">
<rect x="347.60" y="73.20" width="58.20" height="101.50" fill="#fbb315"/>
<rect x="347.60" y="174.40" width="58.20" height="146.20" fill="#48aa35"/>
<rect x="405.40" y="73.20" width="58.50" height="101.50" fill="#48aa35"/>
<rect x="405.40" y="174.40" width="58.50" height="146.20" fill="#fbb315"/>
<rect x="347.60" y="93.28" width="19.40" height="4.88" fill="#faaf16"/>
<rect x="347.60" y="102.27" width="19.40" height="2.85" fill="#fbb215"/>
<rect x="347.60" y="110.33" width="19.40" height="4.80" fill="#fbb616"/>
<rect x="347.60" y="120.38" width="19.40" height="3.40" fill="#fbb516"/>
<rect x="347.60" y="123.79" width="19.40" height="3.61" fill="#fbb616"/>
<rect x="347.60" y="127.40" width="19.40" height="5.77" fill="#fab016"/>
<rect x="347.60" y="133.17" width="19.40" height="2.64" fill="#faaf17"/>
<rect x="347.60" y="140.32" width="19.40" height="4.06" fill="#fab016"/>
<rect x="347.60" y="148.96" width="19.40" height="5.93" fill="#fbb516"/>
<rect x="347.60" y="157.74" width="19.40" height="3.24" fill="#fbb215"/>
<rect x="347.60" y="169.24" width="19.40" height="2.95" fill="#faaf16"/>
<rect x="347.60" y="174.40" width="19.40" height="3.16" fill="#51a634"/>
<rect x="347.60" y="182.55" width="19.40" height="5.05" fill="#50a734"/>
<rect x="347.60" y="187.61" width="19.40" height="4.98" fill="#45ad36"/>
<rect x="347.60" y="195.98" width="19.40" height="5.01" fill="#4ba935"/>
<rect x="347.60" y="205.77" width="19.40" height="2.78" fill="#51a634"/>
<rect x="347.60" y="211.63" width="19.40" height="4.20" fill="#4ea834"/>
<rect x="347.60" y="215.83" width="19.40" height="4.51" fill="#46ac36"/>
<rect x="347.60" y="227.12" width="19.40" height="4.70" fill="#46ac36"/>
<rect x="347.60" y="242.32" width="19.40" height="3.52" fill="#53a534"/>
<rect x="347.60" y="260.39" width="19.40" height="4.60" fill="#4ea734"/>
<rect x="347.60" y="264.99" width="19.40" height="5.61" fill="#50a634"/>
<rect x="347.60" y="275.21" width="19.40" height="5.33" fill="#4ba935"/>
<rect x="347.60" y="280.53" width="19.40" height="3.42" fill="#46ac36"/>
<rect x="347.60" y="297.30" width="19.40" height="4.50" fill="#52a634"/>
<rect x="347.60" y="307.13" width="19.40" height="5.70" fill="#4ba935"/>
<rect x="347.60" y="320.46" width="19.40" height="0.14" fill="#50a734"/>
<rect x="367.00" y="73.20" width="19.40" height="4.87" fill="#fbb415"/>
<rect x="367.00" y="81.46" width="19.40" height="5.27" fill="#fbb415"/>
<rect x="367.00" y="101.01" width="19.40" height="4.33" fill="#fbb616"/>
<rect x="367.00" y="105.34" width="19.40" height="3.16" fill="#fab116"/>
<rect x="367.00" y="108.50" width="19.40" height="4.95" fill="#fbb516"/>
<rect x="367.00" y="113.45" width="19.40" height="3.91" fill="#fbb415"/>
<rect x="367.00" y="120.02" width="19.40" height="3.81" fill="#faaf16"/>
<rect x="367.00" y="123.83" width="19.40" height="5.26" fill="#fab016"/>
<rect x="367.00" y="129.08" width="19.40" height="3.71" fill="#fbb415"/>
<rect x="367.00" y="135.41" width="19.40" height="5.53" fill="#fbb516"/>
<rect x="367.00" y="153.53" width="19.40" height="5.87" fill="#fbb216"/>
<rect x="367.00" y="159.40" width="19.40" height="3.20" fill="#fab116"/>
<rect x="367.00" y="165.29" width="19.40" height="5.55" fill="#fbb716"/>
<rect x="367.00" y="170.83" width="19.40" height="3.57" fill="#fab016"/>
<rect x="367.00" y="174.40" width="19.40" height="3.89" fill="#53a534"/>
<rect x="367.00" y="186.43" width="19.40" height="4.84" fill="#4ea734"/>
<rect x="367.00" y="194.34" width="19.40" height="5.97" fill="#4ba935"/>
<rect x="367.00" y="200.31" width="19.40" height="3.40" fill="#52a634"/>
<rect x="367.00" y="217.02" width="19.40" height="5.95" fill="#4ca835"/>
<rect x="367.00" y="228.11" width="19.40" height="4.87" fill="#50a734"/>
<rect x="367.00" y="232.98" width="19.40" height="5.15" fill="#4da834"/>
<rect x="367.00" y="238.13" width="19.40" height="3.40" fill="#4fa734"/>
<rect x="367.00" y="241.53" width="19.40" height="3.09" fill="#4ca835"/>
<rect x="367.00" y="244.62" width="19.40" height="4.87" fill="#51a634"/>
<rect x="367.00" y="249.49" width="19.40" height="3.18" fill="#52a534"/>
<rect x="367.00" y="261.48" width="19.40" height="2.99" fill="#47ab36"/>
<rect x="367.00" y="270.22" width="19.40" height="4.70" fill="#46ac36"/>
<rect x="367.00" y="274.92" width="19.40" height="5.38" fill="#46ac36"/>
<rect x="367.00" y="280.30" width="19.40" height="3.00" fill="#4ba935"/>
<rect x="367.00" y="291.30" width="19.40" height="3.43" fill="#47ab36"/>
<rect x="367.00" y="298.19" width="19.40" height="3.67" fill="#4fa734"/>
<rect x="367.00" y="311.07" width="19.40" height="4.84" fill="#4fa734"/>
<rect x="367.00" y="315.91" width="19.40" height="3.50" fill="#4ca835"/>
<rect x="386.40" y="79.19" width="19.00" height="2.84" fill="#faae17"/>
<rect x="386.40" y="90.82" width="19.00" height="3.69" fill="#fbb215"/>
<rect x="386.40" y="94.51" width="19.00" height="5.41" fill="#fbb415"/>
<rect x="386.40" y="107.21" width="19.00" height="2.98" fill="#faaf16"/>
<rect x="386.40" y="110.20" width="19.00" height="4.99" fill="#fbb116"/>
<rect x="386.40" y="117.99" width="19.00" height="4.23" fill="#fab116"/>
<rect x="386.40" y="132.21" width="19.00" height="3.21" fill="#faaf16"/>
<rect x="386.40" y="145.71" width="19.00" height="5.53" fill="#fbb415"/>
<rect x="386.40" y="151.24" width="19.00" height="5.69" fill="#fbb616"/>
<rect x="386.40" y="156.93" width="19.00" height="3.43" fill="#faaf17"/>
<rect x="386.40" y="160.36" width="19.00" height="3.78" fill="#fab016"/>
<rect x="386.40" y="164.14" width="19.00" height="4.58" fill="#fab016"/>
<rect x="386.40" y="168.72" width="19.00" height="4.06" fill="#fbb415"/>
<rect x="386.40" y="174.40" width="19.00" height="5.53" fill="#51a634"/>
<rect x="386.40" y="186.48" width="19.00" height="5.84" fill="#46ac36"/>
<rect x="386.40" y="192.32" width="19.00" height="4.36" fill="#47ab36"/>
<rect x="386.40" y="196.67" width="19.00" height="5.89" fill="#4ca835"/>
<rect x="386.40" y="202.56" width="19.00" height="2.86" fill="#51a634"/>
<rect x="386.40" y="205.42" width="19.00" height="2.61" fill="#50a634"/>
<rect x="386.40" y="208.02" width="19.00" height="3.18" fill="#50a734"/>
<rect x="386.40" y="211.21" width="19.00" height="4.52" fill="#46ac36"/>
<rect x="386.40" y="218.59" width="19.00" height="5.01" fill="#4ca835"/>
<rect x="386.40" y="223.60" width="19.00" height="4.23" fill="#47ab36"/>
<rect x="386.40" y="227.82" width="19.00" height="2.93" fill="#47ab36"/>
<rect x="386.40" y="238.34" width="19.00" height="5.11" fill="#52a634"/>
<rect x="386.40" y="243.45" width="19.00" height="5.78" fill="#4ea734"/>
<rect x="386.40" y="249.23" width="19.00" height="5.44" fill="#46ac36"/>
<rect x="386.40" y="260.46" width="19.00" height="3.68" fill="#4da834"/>
<rect x="386.40" y="278.84" width="19.00" height="2.69" fill="#45ad36"/>
<rect x="386.40" y="281.53" width="19.00" height="5.77" fill="#4ea734"/>
<rect x="386.40" y="287.30" width="19.00" height="4.71" fill="#4fa734"/>
<rect x="386.40" y="292.01" width="19.00" height="2.74" fill="#46ac36"/>
<rect x="386.40" y="294.76" width="19.00" height="2.57" fill="#53a534"/>
<rect x="386.40" y="318.91" width="19.00" height="1.69" fill="#45ad36"/>
<rect x="405.40" y="73.20" width="19.60" height="4.67" fill="#4fa734"/>
<rect x="405.40" y="81.89" width="19.60" height="3.51" fill="#50a634"/>
<rect x="405.40" y="88.32" width="19.60" height="5.85" fill="#47ab36"/>
<rect x="405.40" y="94.17" width="19.60" height="4.13" fill="#47ab36"/>
<rect x="405.40" y="98.30" width="19.60" height="2.93" fill="#4da835"/>
<rect x="405.40" y="101.23" width="19.60" height="3.92" fill="#4da835"/>
<rect x="405.40" y="105.16" width="19.60" height="2.81" fill="#46ac36"/>
<rect x="405.40" y="112.60" width="19.60" height="4.78" fill="#51a634"/>
<rect x="405.40" y="117.37" width="19.60" height="4.11" fill="#46ac36"/>
<rect x="405.40" y="121.49" width="19.60" height="4.14" fill="#4da835"/>
<rect x="405.40" y="125.63" width="19.60" height="3.28" fill="#46ac36"/>
<rect x="405.40" y="128.90" width="19.60" height="4.55" fill="#4da834"/>
<rect x="405.40" y="133.45" width="19.60" height="5.52" fill="#4fa734"/>
<rect x="405.40" y="138.97" width="19.60" height="4.22" fill="#53a534"/>
<rect x="405.40" y="146.72" width="19.60" height="3.05" fill="#52a634"/>
<rect x="405.40" y="149.78" width="19.60" height="4.04" fill="#4ea734"/>
<rect x="405.40" y="157.86" width="19.60" height="2.88" fill="#53a534"/>
<rect x="405.40" y="160.74" width="19.60" height="5.09" fill="#4da834"/>
<rect x="405.40" y="174.22" width="19.60" height="0.18" fill="#46ac36"/>
<rect x="405.40" y="194.11" width="19.60" height="4.55" fill="#fbb716"/>
<rect x="405.40" y="198.66" width="19.60" height="4.50" fill="#fbb616"/>
<rect x="405.40" y="208.71" width="19.60" height="3.83" fill="#fbb516"/>
<rect x="405.40" y="212.54" width="19.60" height="5.03" fill="#fab016"/>
<rect x="405.40" y="217.57" width="19.60" height="4.44" fill="#fbb516"/>
<rect x="405.40" y="227.27" width="19.60" height="4.25" fill="#fbb415"/>
<rect x="405.40" y="231.52" width="19.60" height="3.56" fill="#fab016"/>
<rect x="405.40" y="235.08" width="19.60" height="4.54" fill="#f9ae17"/>
<rect x="405.40" y="248.69" width="19.60" height="3.22" fill="#fbb616"/>
<rect x="405.40" y="251.90" width="19.60" height="2.54" fill="#fab016"/>
<rect x="405.40" y="258.68" width="19.60" height="5.21" fill="#fbb716"/>
<rect x="405.40" y="263.89" width="19.60" height="4.31" fill="#fbb616"/>
<rect x="405.40" y="268.20" width="19.60" height="3.86" fill="#fbb616"/>
<rect x="405.40" y="275.79" width="19.60" height="4.87" fill="#fbb415"/>
<rect x="405.40" y="280.66" width="19.60" height="3.81" fill="#fbb516"/>
<rect x="405.40" y="288.98" width="19.60" height="5.88" fill="#fbb516"/>
<rect x="405.40" y="299.54" width="19.60" height="3.70" fill="#fbb616"/>
<rect x="405.40" y="303.24" width="19.60" height="3.10" fill="#fbb716"/>
<rect x="405.40" y="306.34" width="19.60" height="5.39" fill="#fbb415"/>
<rect x="425.00" y="73.20" width="19.50" height="5.61" fill="#47ab36"/>
<rect x="425.00" y="78.81" width="19.50" height="3.51" fill="#46ac36"/>
<rect x="425.00" y="82.32" width="19.50" height="3.16" fill="#50a734"/>
<rect x="425.00" y="85.48" width="19.50" height="4.61" fill="#53a534"/>
<rect x="425.00" y="90.09" width="19.50" height="4.73" fill="#4ea734"/>
<rect x="425.00" y="94.82" width="19.50" height="5.26" fill="#50a634"/>
<rect x="425.00" y="100.08" width="19.50" height="2.51" fill="#52a634"/>
<rect x="425.00" y="107.14" width="19.50" height="3.19" fill="#46ac36"/>
<rect x="425.00" y="118.12" width="19.50" height="4.51" fill="#47ab36"/>
<rect x="425.00" y="125.68" width="19.50" height="2.87" fill="#4ca835"/>
<rect x="425.00" y="137.53" width="19.50" height="2.72" fill="#51a634"/>
<rect x="425.00" y="143.88" width="19.50" height="3.74" fill="#4da835"/>
<rect x="425.00" y="150.46" width="19.50" height="4.54" fill="#4ea734"/>
<rect x="425.00" y="155.00" width="19.50" height="3.85" fill="#52a634"/>
<rect x="425.00" y="167.43" width="19.50" height="3.37" fill="#52a534"/>
<rect x="425.00" y="170.80" width="19.50" height="3.60" fill="#52a634"/>
<rect x="425.00" y="174.40" width="19.50" height="5.36" fill="#fbb616"/>
<rect x="425.00" y="179.76" width="19.50" height="5.86" fill="#fbb716"/>
<rect x="425.00" y="185.62" width="19.50" height="3.35" fill="#fbb616"/>
<rect x="425.00" y="188.97" width="19.50" height="3.27" fill="#fbb616"/>
<rect x="425.00" y="196.44" width="19.50" height="3.35" fill="#fab016"/>
<rect x="425.00" y="206.46" width="19.50" height="2.90" fill="#fbb516"/>
<rect x="425.00" y="209.36" width="19.50" height="3.91" fill="#fab116"/>
<rect x="425.00" y="213.27" width="19.50" height="5.39" fill="#fbb415"/>
<rect x="425.00" y="218.66" width="19.50" height="3.17" fill="#fab116"/>
<rect x="425.00" y="224.45" width="19.50" height="3.69" fill="#faaf16"/>
<rect x="425.00" y="228.15" width="19.50" height="2.82" fill="#faaf17"/>
<rect x="425.00" y="230.97" width="19.50" height="2.95" fill="#fbb616"/>
<rect x="425.00" y="233.92" width="19.50" height="5.32" fill="#fab016"/>
<rect x="425.00" y="239.24" width="19.50" height="5.03" fill="#fbb716"/>
<rect x="425.00" y="247.49" width="19.50" height="4.27" fill="#fab016"/>
<rect x="425.00" y="258.13" width="19.50" height="4.56" fill="#fbb415"/>
<rect x="425.00" y="262.69" width="19.50" height="4.63" fill="#faae17"/>
<rect x="425.00" y="267.32" width="19.50" height="2.93" fill="#fbb516"/>
<rect x="425.00" y="277.54" width="19.50" height="4.49" fill="#fbb516"/>
<rect x="425.00" y="282.03" width="19.50" height="2.80" fill="#faaf17"/>
<rect x="425.00" y="291.33" width="19.50" height="3.77" fill="#fbb516"/>
<rect x="425.00" y="295.10" width="19.50" height="2.73" fill="#fbb415"/>
<rect x="425.00" y="300.77" width="19.50" height="3.49" fill="#fbb616"/>
<rect x="425.00" y="309.47" width="19.50" height="5.51" fill="#fab116"/>
<rect x="425.00" y="317.59" width="19.50" height="3.01" fill="#fbb516"/>
<rect x="444.50" y="85.11" width="19.40" height="3.14" fill="#52a534"/>
<rect x="444.50" y="93.31" width="19.40" height="2.64" fill="#4ca835"/>
<rect x="444.50" y="95.96" width="19.40" height="3.19" fill="#4ea734"/>
<rect x="444.50" y="99.15" width="19.40" height="2.64" fill="#50a734"/>
<rect x="444.50" y="109.41" width="19.40" height="3.39" fill="#46ac36"/>
<rect x="444.50" y="112.80" width="19.40" height="3.72" fill="#52a634"/>
<rect x="444.50" y="116.52" width="19.40" height="5.22" fill="#4ba935"/>
<rect x="444.50" y="127.23" width="19.40" height="2.67" fill="#4ba835"/>
<rect x="444.50" y="129.90" width="19.40" height="5.27" fill="#52a534"/>
<rect x="444.50" y="135.17" width="19.40" height="5.12" fill="#50a634"/>
<rect x="444.50" y="144.17" width="19.40" height="5.40" fill="#4ba935"/>
<rect x="444.50" y="149.57" width="19.40" height="5.81" fill="#45ad36"/>
<rect x="444.50" y="165.71" width="19.40" height="4.08" fill="#50a634"/>
<rect x="444.50" y="169.79" width="19.40" height="4.00" fill="#45ad36"/>
<rect x="444.50" y="177.05" width="19.40" height="5.32" fill="#fab016"/>
<rect x="444.50" y="188.27" width="19.40" height="4.40" fill="#fbb216"/>
<rect x="444.50" y="192.67" width="19.40" height="3.75" fill="#fbb415"/>
<rect x="444.50" y="196.42" width="19.40" height="3.59" fill="#faaf16"/>
<rect x="444.50" y="200.01" width="19.40" height="4.85" fill="#fab116"/>
<rect x="444.50" y="204.86" width="19.40" height="4.30" fill="#fbb716"/>
<rect x="444.50" y="209.16" width="19.40" height="3.73" fill="#faae17"/>
<rect x="444.50" y="227.06" width="19.40" height="4.60" fill="#fbb616"/>
<rect x="444.50" y="231.66" width="19.40" height="5.41" fill="#fab116"/>
<rect x="444.50" y="237.07" width="19.40" height="3.76" fill="#fbb216"/>
<rect x="444.50" y="240.83" width="19.40" height="3.48" fill="#faaf16"/>
<rect x="444.50" y="244.31" width="19.40" height="4.07" fill="#fab116"/>
<rect x="444.50" y="248.38" width="19.40" height="4.14" fill="#fbb415"/>
<rect x="444.50" y="252.52" width="19.40" height="2.75" fill="#f9ae17"/>
<rect x="444.50" y="255.27" width="19.40" height="5.13" fill="#faaf16"/>
<rect x="444.50" y="266.33" width="19.40" height="2.88" fill="#fbb516"/>
<rect x="444.50" y="269.21" width="19.40" height="3.16" fill="#fbb415"/>
<rect x="444.50" y="282.79" width="19.40" height="4.78" fill="#fab116"/>
<rect x="444.50" y="287.58" width="19.40" height="2.99" fill="#faaf16"/>
<rect x="444.50" y="290.56" width="19.40" height="5.44" fill="#fab116"/>
<rect x="444.50" y="300.73" width="19.40" height="5.74" fill="#faaf17"/>
<rect x="444.50" y="311.88" width="19.40" height="3.64" fill="#faaf17"/>
<rect x="444.50" y="315.53" width="19.40" height="3.62" fill="#fbb516"/>
<rect x="347.60" y="166.80" width="19.40" height="2.50" fill="#f59a1a"/>
<rect x="347.60" y="169.30" width="19.40" height="3.10" fill="#fde52a"/>
<rect x="347.60" y="172.40" width="19.40" height="2.00" fill="#f9a81a"/>
<rect x="367.00" y="109.50" width="19.40" height="2.50" fill="#f49c1c"/>
<rect x="367.00" y="167.00" width="19.40" height="5.00" fill="#f39a1c"/>
<rect x="367.00" y="128.00" width="19.40" height="6.00" fill="#fcc01a"/>
<rect x="386.40" y="73.00" width="19.00" height="11.00" fill="#fcbd18"/>
<rect x="386.40" y="167.00" width="19.00" height="3.00" fill="#fde52a"/>
<rect x="386.40" y="170.00" width="19.00" height="4.40" fill="#f9a81a"/>
<rect x="405.40" y="95.50" width="19.60" height="5.10" fill="#699e32"/>
<rect x="405.40" y="142.60" width="19.60" height="3.80" fill="#828f2d"/>
<rect x="405.40" y="159.00" width="19.60" height="9.00" fill="#779831"/>
<rect x="425.00" y="105.70" width="19.50" height="14.00" fill="#6d9c32"/>
<rect x="425.00" y="146.40" width="19.50" height="8.90" fill="#779c31"/>
<rect x="425.00" y="140.00" width="19.50" height="2.50" fill="#828f2d"/>
<rect x="444.50" y="123.50" width="19.40" height="17.80" fill="#62a133"/>
<rect x="444.50" y="169.80" width="19.40" height="4.60" fill="#8e812a"/>
<rect x="444.50" y="145.00" width="19.40" height="3.00" fill="#699e32"/>
<rect x="347.60" y="237.50" width="19.40" height="11.50" fill="#5ca334"/>
<rect x="347.60" y="279.50" width="19.40" height="23.50" fill="#659e32"/>
<rect x="347.60" y="284.00" width="19.40" height="5.00" fill="#729931"/>
<rect x="347.60" y="296.00" width="19.40" height="4.00" fill="#729931"/>
<rect x="367.00" y="189.00" width="19.40" height="3.00" fill="#699e32"/>
<rect x="367.00" y="208.00" width="19.40" height="11.70" fill="#699c31"/>
<rect x="367.00" y="268.00" width="19.40" height="4.00" fill="#749831"/>
<rect x="367.00" y="310.70" width="19.40" height="9.90" fill="#6c9c32"/>
<rect x="386.40" y="272.00" width="19.00" height="6.00" fill="#729831"/>
<rect x="386.40" y="270.00" width="19.00" height="7.50" fill="#5ea233"/>
<rect x="386.40" y="303.00" width="19.00" height="17.60" fill="#699c31"/>
<rect x="386.40" y="287.00" width="19.00" height="3.00" fill="#699e32"/>
<rect x="405.40" y="203.00" width="19.60" height="4.00" fill="#f7a61a"/>
<rect x="405.40" y="246.00" width="19.60" height="7.00" fill="#f6a51b"/>
<rect x="405.40" y="272.00" width="19.60" height="6.00" fill="#f5a31c"/>
<rect x="405.40" y="318.30" width="19.60" height="2.30" fill="#f08a1e"/>
<rect x="425.00" y="246.40" width="19.50" height="7.60" fill="#fdd01e"/>
<rect x="425.00" y="303.00" width="19.50" height="3.00" fill="#f5a31c"/>
<rect x="425.00" y="196.00" width="19.50" height="4.00" fill="#fcc21a"/>
<rect x="444.50" y="272.00" width="19.40" height="5.00" fill="#fdd01e"/>
<rect x="444.50" y="186.00" width="19.40" height="6.00" fill="#fcc01a"/>
<rect x="444.50" y="292.00" width="19.40" height="4.00" fill="#fcc21a"/>
</g>
<g filter="url(#bl)" shape-rendering="crispEdges">
<rect x="573.90" y="99.80" width="49.40" height="49.90" fill="#fbb315"/>
<rect x="573.90" y="149.40" width="49.40" height="148.10" fill="#48aa35"/>
<rect x="622.90" y="99.80" width="51.40" height="49.90" fill="#48aa35"/>
<rect x="622.90" y="149.40" width="51.40" height="148.10" fill="#fbb315"/>
<rect x="573.90" y="99.80" width="16.10" height="19.50" fill="#fcb818"/>
<rect x="573.90" y="119.30" width="16.10" height="19.70" fill="#fbb116"/>
<rect x="573.90" y="139.00" width="16.10" height="10.40" fill="#f8a81a"/>
<rect x="590.00" y="99.80" width="16.80" height="8.70" fill="#fcb818"/>
<rect x="590.00" y="108.50" width="16.80" height="30.50" fill="#fab214"/>
<rect x="590.00" y="139.00" width="16.80" height="10.40" fill="#fdc81c"/>
<rect x="606.80" y="99.80" width="16.10" height="18.20" fill="#fbb114"/>
<rect x="606.80" y="118.00" width="16.10" height="8.00" fill="#fcb918"/>
<rect x="606.80" y="126.00" width="16.10" height="23.40" fill="#fab014"/>
<rect x="656.00" y="108.60" width="18.30" height="9.40" fill="#5aa435"/>
<rect x="656.00" y="128.50" width="18.30" height="10.50" fill="#62a035"/>
<rect x="573.90" y="149.40" width="16.10" height="17.60" fill="#6a9e38"/>
<rect x="573.90" y="257.60" width="16.10" height="10.40" fill="#58ad2f"/>
<rect x="573.90" y="268.00" width="16.10" height="10.60" fill="#7a9530"/>
<rect x="573.90" y="278.60" width="16.10" height="18.90" fill="#6a9e32"/>
<rect x="590.00" y="169.00" width="16.80" height="38.50" fill="#5ba435"/>
<rect x="590.00" y="257.60" width="16.80" height="10.40" fill="#7a9532"/>
<rect x="590.00" y="268.00" width="16.80" height="29.50" fill="#55ad30"/>
<rect x="606.80" y="208.60" width="16.10" height="9.40" fill="#6f9a35"/>
<rect x="606.80" y="218.00" width="16.10" height="39.60" fill="#62a035"/>
<rect x="606.80" y="257.60" width="16.10" height="10.40" fill="#80882c"/>
<rect x="606.80" y="268.00" width="16.10" height="15.00" fill="#7a8c2e"/>
<rect x="606.80" y="283.00" width="16.10" height="14.50" fill="#72962f"/>
<rect x="622.90" y="149.40" width="16.70" height="22.60" fill="#fbb116"/>
<rect x="622.90" y="172.00" width="16.70" height="56.50" fill="#fcb916"/>
<rect x="622.90" y="228.50" width="16.70" height="9.30" fill="#fdc81a"/>
<rect x="622.90" y="237.80" width="16.70" height="9.20" fill="#fbb414"/>
<rect x="622.90" y="247.00" width="16.70" height="9.40" fill="#fdcf1c"/>
<rect x="622.90" y="256.40" width="16.70" height="11.60" fill="#fab014"/>
<rect x="622.90" y="268.00" width="16.70" height="10.60" fill="#fdd61e"/>
<rect x="622.90" y="278.60" width="16.70" height="18.90" fill="#fbb314"/>
<rect x="639.60" y="149.40" width="16.40" height="24.60" fill="#fdbd18"/>
<rect x="639.60" y="174.00" width="16.40" height="94.00" fill="#fbb414"/>
<rect x="639.60" y="268.00" width="16.40" height="9.40" fill="#f5a225"/>
<rect x="639.60" y="277.40" width="16.40" height="20.10" fill="#fbb616"/>
<rect x="656.00" y="149.40" width="18.30" height="148.10" fill="#fab214"/>
</g>
<polyline points="80.0,163.2 2.5,163.2 2.5,229.5 71.7,229.5" fill="none" stroke="#222" stroke-width="0.90"/>
<polyline points="81.0,191.2 71.7,191.2 71.7,268.0 77.4,268.0" fill="none" stroke="#222" stroke-width="0.90"/>
<polyline points="77.4,191.2 77.4,346.0" fill="none" stroke="#222" stroke-width="0.90"/>
<polyline points="81.6,26.3 81.3,80.0 81.2,191.0" fill="none" stroke="#333" stroke-width="0.90"/>
<polyline points="81.2,70.0 81.2,191.0" fill="none" stroke="#111" stroke-width="1.20"/>
<polyline points="80.4,124.0 80.4,182.0" fill="none" stroke="#222" stroke-width="0.80"/>
<polyline points="79.6,148.0 79.6,172.0 80.8,188.0" fill="none" stroke="#222" stroke-width="0.80"/>
<polyline points="81.3,191.0 81.0,300.0 80.2,375.0" fill="none" stroke="#111" stroke-width="1.50"/>
<polyline points="79.7,268.0 79.5,346.0" fill="none" stroke="#222" stroke-width="0.90"/>
<polygon points="80.9,232 81.8,232 81.5,346 79.3,346 79.3,300 79.9,262" fill="#111"/>
<polyline points="77.4,346.0 79.9,373.0" fill="none" stroke="#222" stroke-width="0.90"/>
<polyline points="78.9,346.0 80.1,373.0" fill="none" stroke="#222" stroke-width="0.90"/>
<polyline points="320.0,151.9 254.0,151.9 254.0,304.7 319.5,304.7" fill="none" stroke="#444" stroke-width="0.80"/>
<polyline points="322.8,73.3 322.5,120.0 321.8,172.7" fill="none" stroke="#111" stroke-width="1.10"/>
<polyline points="321.8,110.0 321.2,160.0 320.6,170.0" fill="none" stroke="#222" stroke-width="0.90"/>
<polyline points="320.2,140.0 320.0,168.0 321.0,172.0" fill="none" stroke="#222" stroke-width="0.80"/>
<polyline points="322.6,176.2 322.2,250.0 321.2,320.0" fill="none" stroke="#111" stroke-width="1.30"/>
<polyline points="321.6,200.0 320.6,318.0" fill="none" stroke="#222" stroke-width="0.90"/>
<polyline points="319.6,290.0 319.6,318.0 321.0,320.0" fill="none" stroke="#222" stroke-width="0.90"/>
<polyline points="558.3,123.3 486.2,123.3 486.2,256.2 556.0,256.2" fill="none" stroke="#555" stroke-width="0.80"/>
<polyline points="558.7,104.5 558.6,144.1" fill="none" stroke="#222" stroke-width="1.00"/>
<polyline points="558.7,154.0 558.3,220.0 558.6,292.8" fill="none" stroke="#222" stroke-width="1.00"/>
<polyline points="558.2,175.0 557.0,250.0 557.8,290.0" fill="none" stroke="#333" stroke-width="0.80"/>
<polyline points="556.2,225.0 556.0,262.0" fill="none" stroke="#444" stroke-width="0.80"/>
<rect x="14" y="391" width="10" height="74" fill="url(#lg)"/>
<rect x="285.3" y="392.7" width="10.7" height="73.1" fill="url(#lg)"/>
<rect x="539.6" y="395.2" width="10.4" height="72.9" fill="url(#lg)"/>
<text transform="translate(111.1,382.6) rotate(90)" font-size="8.85">Healthy-3</text>
<text transform="translate(130.9,382.6) rotate(90)" font-size="8.85">Healthy-2</text>
<text transform="translate(150.9,382.6) rotate(90)" font-size="8.85">Healthy-1</text>
<text transform="translate(172.9,382.6) rotate(90)" font-size="8.85">Patient-3</text>
<text transform="translate(193.0,382.6) rotate(90)" font-size="8.85">Patient-2</text>
<text transform="translate(211.9,382.6) rotate(90)" font-size="8.85">Patient-1</text>
<text transform="translate(353.7,329.2) rotate(90)" font-size="8.85">Healthy-3</text>
<text transform="translate(371.2,329.2) rotate(90)" font-size="8.85">Healthy-2</text>
<text transform="translate(393.0,329.2) rotate(90)" font-size="8.85">Healthy-1</text>
<text transform="translate(414.1,329.2) rotate(90)" font-size="8.85">Patient-3</text>
<text transform="translate(435.3,329.2) rotate(90)" font-size="8.85">Patient-2</text>
<text transform="translate(455.1,329.2) rotate(90)" font-size="8.85">Patient-1</text>
<text transform="translate(579.9,307.8) rotate(90)" font-size="8.85">Healthy-3</text>
<text transform="translate(596.2,307.8) rotate(90)" font-size="8.85">Healthy-2</text>
<text transform="translate(614.0,307.8) rotate(90)" font-size="8.85">Healthy-1</text>
<text transform="translate(633.4,307.8) rotate(90)" font-size="8.85">Patient-3</text>
<text transform="translate(648.6,307.8) rotate(90)" font-size="8.85">Patient-2</text>
<text transform="translate(663.7,307.8) rotate(90)" font-size="8.85">Patient-1</text>
<text x="22.6" y="12.7" font-size="13.50" text-anchor="start">a</text>
<text x="290.0" y="12.5" font-size="14.00" text-anchor="start">b</text>
<text x="521.5" y="12.7" font-size="14.00" text-anchor="start">c</text>
<text x="27.5" y="395.5" font-size="7.00" text-anchor="start">1.5</text>
<text x="29.5" y="405.1" font-size="7.00" text-anchor="start">1</text>
<text x="28.5" y="418.2" font-size="7.00" text-anchor="start">0.5</text>
<text x="29.5" y="428.9" font-size="7.00" text-anchor="start">0</text>
<text x="27.5" y="440.0" font-size="7.00" text-anchor="start">-0.5</text>
<text x="27.5" y="451.7" font-size="7.00" text-anchor="start">-1</text>
<text x="25.5" y="461.5" font-size="7.00" text-anchor="start">-1.5</text>
<text x="302.5" y="399.1" font-size="7.00" text-anchor="start">1</text>
<text x="300.5" y="417.5" font-size="7.00" text-anchor="start">0.5</text>
<text x="301.5" y="434.2" font-size="7.00" text-anchor="start">0</text>
<text x="300.5" y="450.7" font-size="7.00" text-anchor="start">-0.5</text>
<text x="300.5" y="464.8" font-size="7.00" text-anchor="start">-1</text>
<text x="555.2" y="401.4" font-size="7.00" text-anchor="start">1</text>
<text x="554.4" y="419.9" font-size="7.00" text-anchor="start">0.5</text>
<text x="555.2" y="436.7" font-size="7.00" text-anchor="start">0</text>
<text x="554.4" y="453.1" font-size="7.00" text-anchor="start">-0.5</text>
<text x="554.4" y="467.3" font-size="7.00" text-anchor="start">-1</text>
</svg>
</body></html>
